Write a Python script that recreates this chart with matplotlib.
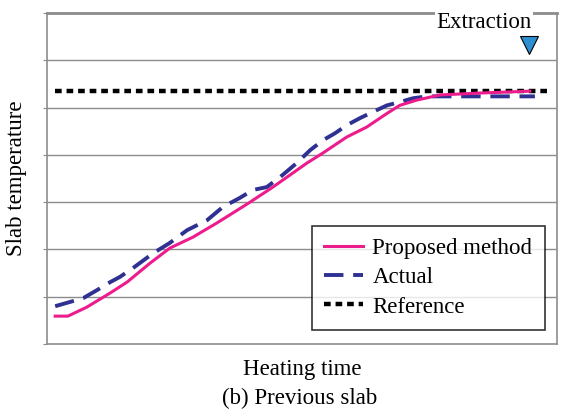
import numpy as np
import matplotlib
matplotlib.use("Agg")
import matplotlib.pyplot as plt

plt.rcParams['font.family'] = ['Liberation Serif', 'DejaVu Serif']

# heating time (0-100) and slab temperature (grid units 0-7)
t_prop = [1.6, 4.1, 7.8, 12.4, 15.7, 20.2, 24.1, 28.6, 33.3, 37.3, 39.8, 44.3, 51.0, 54.1,
          58.8, 62.7, 66.7, 69.2, 72.5, 77.1, 84.9, 94.7]
y_prop = [0.59, 0.59, 0.78, 1.08, 1.31, 1.71, 2.03, 2.26, 2.56, 2.83, 3.00, 3.32, 3.83, 4.04,
          4.38, 4.59, 4.88, 5.05, 5.16, 5.27, 5.31, 5.35]

t_act = [1.6, 7.1, 9.8, 12.4, 14.3, 16.9, 20.8, 24.1, 27.5, 31.4, 34.5, 37.8, 40.4, 43.1,
         45.7, 49.0, 51.6, 54.1, 56.5, 58.8, 61.4, 63.9, 66.7, 69.2, 71.8, 74.5, 95.7]
y_act = [0.80, 0.97, 1.14, 1.31, 1.42, 1.61, 1.92, 2.14, 2.41, 2.62, 2.90, 3.09, 3.26, 3.32,
         3.53, 3.83, 4.10, 4.31, 4.46, 4.63, 4.78, 4.91, 5.05, 5.12, 5.20, 5.24, 5.24]

t_ref = [1.6, 98.2]
y_ref = [5.35, 5.35]

extraction_t = 94.5
extraction_y = 6.33

fig = plt.figure(figsize=(5.63, 4.12), dpi=100)
ax = fig.add_axes([0.0835, 0.165, 0.9055, 0.803])

gc = '#8c8c8c'
for v in range(1, 7):
    ax.axhline(v, color=gc, lw=1.0, zorder=1)

ax.plot(t_ref, y_ref, color='black', lw=3.2, dashes=(1.5, 1.1), label='Reference', zorder=3)
ax.plot(t_prop, y_prop, color='#ec1c8c', lw=2.2, label='Proposed method', zorder=4)
ax.plot(t_act, y_act, color='#2e3192', lw=2.8, dashes=(5, 2.5), label='Actual', zorder=3)

ax.plot([extraction_t], [extraction_y], marker='v', ms=13, color='#2b8fd0',
        mec='black', mew=0.8, zorder=5)
ax.text(85.8, 6.8, 'Extraction', fontsize=16.5, ha='center', va='center', zorder=6,
        bbox=dict(facecolor='white', edgecolor='none', pad=1))

ax.set_xlim(0, 100)
ax.set_ylim(0, 7)
ax.set_xticks([])
ax.set_yticks(range(0, 8))
ax.set_yticklabels([])
ax.tick_params(axis='y', length=3, color=gc, direction='out')
for s in ax.spines.values():
    s.set_color(gc)
    s.set_linewidth(1.2)
ax.spines['top'].set_linewidth(2.0)

ax.set_ylabel('Slab temperature', fontsize=16.5, labelpad=8)
ax.set_xlabel('Heating time', fontsize=16.5, labelpad=11)
fig.text(0.533, 0.032, '(b) Previous slab', fontsize=16.5, ha='center', va='center')

h, l = ax.get_legend_handles_labels()
order = [1, 2, 0]
leg = ax.legend([h[i] for i in order], [l[i] for i in order], loc='lower right',
                bbox_to_anchor=(0.977, 0.042), fontsize=16.5, frameon=True, fancybox=False,
                handlelength=1.7, handletextpad=0.4, borderpad=0.55, labelspacing=0.35,
                borderaxespad=0)
leg.get_frame().set_edgecolor('black')
leg.get_frame().set_linewidth(1.2)
leg.set_zorder(7)

fig.savefig('out.png', dpi=100)
